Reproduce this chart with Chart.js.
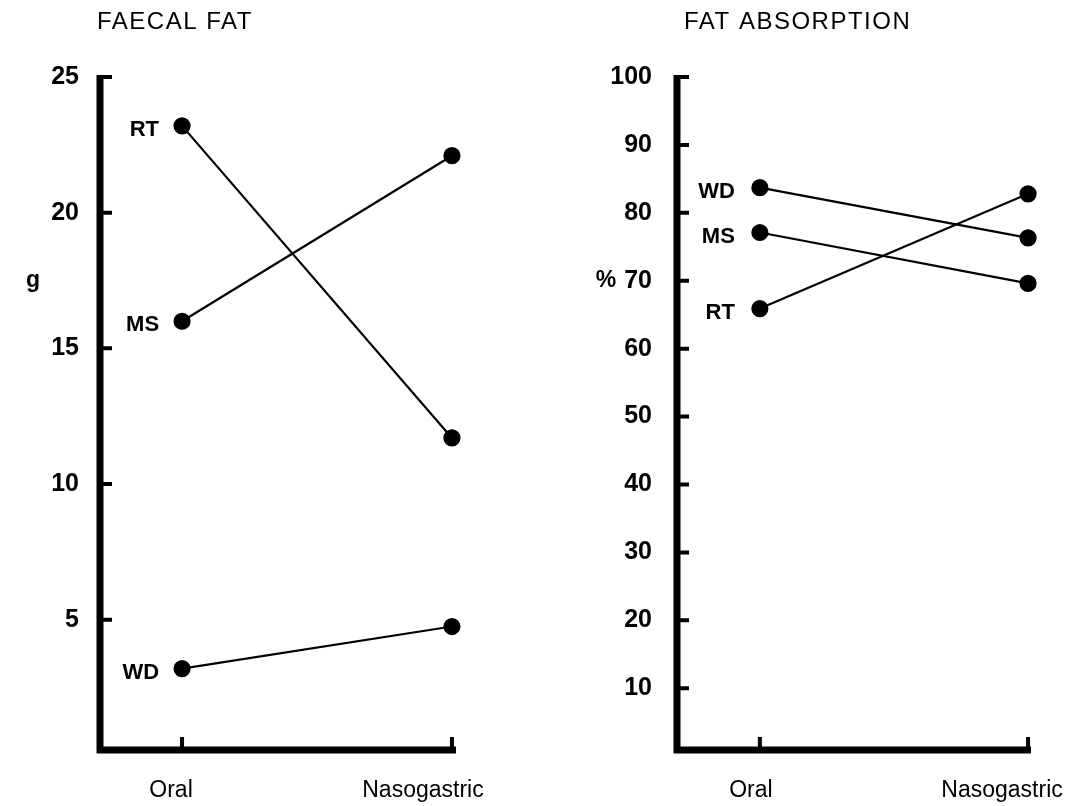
<!DOCTYPE html>
<html>
<head>
<meta charset="utf-8">
<script src="https://cdn.jsdelivr.net/npm/chart.js@4/dist/chart.umd.min.js"></script>
<style>
  body { margin: 0; background: #fff; }
  #wrap { position: relative; width: 1073px; height: 806px; }
  #left { position: absolute; left: 0; top: 0; }
  #right { position: absolute; left: 540px; top: 0; }
</style>
</head>
<body>
<div id="wrap">
  <canvas id="left" width="540" height="806"></canvas>
  <canvas id="right" width="533" height="806"></canvas>
</div>
<script>
// categories
const routes = ["Oral", "Nasogastric"];

// faecal fat, g
const faecalRT = [23.2, 11.7];
const faecalMS = [16.0, 22.1];
const faecalWD = [3.2, 4.75];
const faecalTicks = [5, 10, 15, 20, 25];

// fat absorption, %
const absorbWD = [83.7, 76.3];
const absorbMS = [77.1, 69.6];
const absorbRT = [65.9, 82.8];
const absorbTicks = [10, 20, 30, 40, 50, 60, 70, 80, 90, 100];

const FONT = 'Helvetica, "Liberation Sans", Arial, sans-serif';

function toPoints(values) {
  return values.map((v, i) => ({ x: i, y: v }));
}

function makeDataset(name, values) {
  return {
    label: name,
    data: toPoints(values),
    borderColor: "#000",
    backgroundColor: "#000",
    borderWidth: 2.2,
    pointRadius: 7.5,
    pointHoverRadius: 7.5,
    clip: false,
  };
}

// draws axes, inward tick marks, titles and text labels
const panelPlugin = {
  id: "panel",
  afterDraw(chart, args, opts) {
    const ctx = chart.ctx;
    const area = chart.chartArea;
    const xs = chart.scales.x;
    const ys = chart.scales.y;
    ctx.save();
    ctx.strokeStyle = "#000";
    ctx.fillStyle = "#000";

    // axis lines
    ctx.lineWidth = 7;
    ctx.beginPath();
    ctx.moveTo(area.left, area.top - 2);
    ctx.lineTo(area.left, area.bottom + 3.5);
    ctx.moveTo(area.left - 3.5, area.bottom);
    ctx.lineTo(area.right, area.bottom);
    ctx.stroke();

    // tick marks pointing inward
    ctx.lineWidth = 4;
    ctx.beginPath();
    ys.ticks.forEach((t) => {
      const py = ys.getPixelForValue(t.value);
      ctx.moveTo(area.left, py);
      ctx.lineTo(area.left + 12, py);
    });
    xs.ticks.forEach((t) => {
      const px = xs.getPixelForValue(t.value);
      ctx.moveTo(px, area.bottom);
      ctx.lineTo(px, area.bottom - 13);
    });
    ctx.stroke();

    // title
    ctx.font = "24px " + FONT;
    ctx.letterSpacing = "1.5px";
    ctx.textAlign = "left";
    ctx.textBaseline = "alphabetic";
    ctx.fillText(opts.title, area.left + opts.titleShift, 29);
    ctx.letterSpacing = "0px";

    // unit
    ctx.font = "bold 23px " + FONT;
    ctx.textAlign = "center";
    ctx.textBaseline = "middle";
    ctx.fillText(opts.unit, opts.unitX, ys.getPixelForValue(opts.unitAt));

    // category labels under the axis
    ctx.font = "23px " + FONT;
    ctx.textBaseline = "alphabetic";
    routes.forEach((name, i) => {
      const px = xs.getPixelForValue(i);
      ctx.fillText(name, px + opts.labelShift[i], 797);
    });

    // patient labels beside the first point
    ctx.font = "bold 22px " + FONT;
    ctx.textAlign = "right";
    ctx.textBaseline = "middle";
    chart.data.datasets.forEach((ds, i) => {
      const pt = chart.getDatasetMeta(i).data[0];
      ctx.fillText(ds.label, pt.x - opts.nameGap, pt.y + 4);
    });
    ctx.restore();
  },
};

function makeChart(canvasId, datasets, cfg) {
  return new Chart(document.getElementById(canvasId), {
    type: "line",
    data: { datasets: datasets },
    plugins: [panelPlugin],
    options: {
      responsive: false,
      animation: false,
      events: [],
      layout: {
        padding: { top: 77, right: cfg.padRight, bottom: 0, left: 0 },
      },
      plugins: {
        legend: { display: false },
        tooltip: { enabled: false },
        panel: {
          title: cfg.title,
          titleShift: cfg.titleShift,
          unit: cfg.unit,
          unitX: cfg.unitX,
          unitAt: cfg.unitAt,
          labelShift: cfg.labelShift,
          nameGap: cfg.nameGap,
        },
      },
      scales: {
        x: {
          type: "linear",
          min: cfg.xMin,
          max: cfg.xMax,
          afterBuildTicks: (scale) => {
            scale.ticks = routes.map((_, i) => ({ value: i }));
          },
          afterFit: (scale) => {
            scale.height = 56;
          },
          grid: { display: false, drawTicks: false },
          border: { display: false },
          ticks: { display: false },
        },
        y: {
          type: "linear",
          min: cfg.yMin,
          max: cfg.yMax,
          afterBuildTicks: (scale) => {
            scale.ticks = cfg.ticks.map((v) => ({ value: v }));
          },
          afterFit: (scale) => {
            scale.width = cfg.yWidth;
          },
          grid: { display: false, drawTicks: false },
          border: { display: false },
          ticks: {
            color: "#000",
            padding: cfg.tickPad,
            font: { family: FONT, size: 25, weight: "bold" },
          },
        },
      },
    },
  });
}

makeChart(
  "left",
  [
    makeDataset("RT", faecalRT),
    makeDataset("MS", faecalMS),
    makeDataset("WD", faecalWD),
  ],
  {
    title: "FAECAL FAT",
    titleShift: -3,
    unit: "g",
    unitX: 33,
    unitAt: 17.5,
    labelShift: [-11, -29],
    nameGap: 23,
    padRight: 84,
    yWidth: 100,
    tickPad: 21,
    xMin: -0.304,
    xMax: 1.015,
    yMin: 0.2,
    yMax: 25,
    ticks: faecalTicks,
  }
);

makeChart(
  "right",
  [
    makeDataset("WD", absorbWD),
    makeDataset("MS", absorbMS),
    makeDataset("RT", absorbRT),
  ],
  {
    title: "FAT ABSORPTION",
    titleShift: 7,
    unit: "%",
    unitX: 66,
    unitAt: 70,
    labelShift: [-9, -26],
    nameGap: 25,
    padRight: 42,
    yWidth: 137,
    tickPad: 25,
    xMin: -0.309,
    xMax: 1.011,
    yMin: 0.9,
    yMax: 100,
    ticks: absorbTicks,
  }
);
</script>
</body>
</html>
